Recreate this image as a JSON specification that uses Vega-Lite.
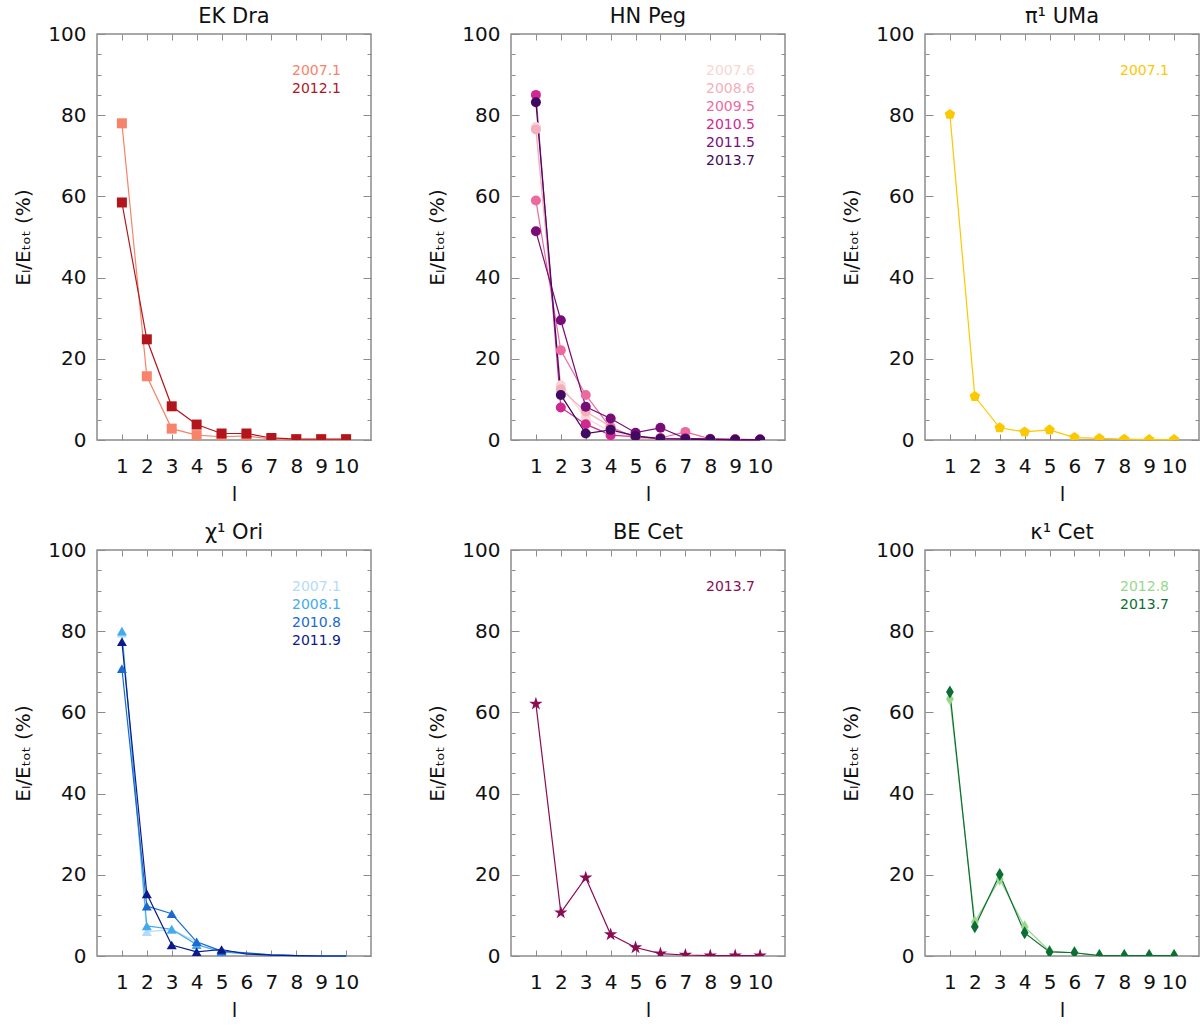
{
  "$schema": "https://vega.github.io/schema/vega-lite/v6.json",
  "autosize": {"type": "pad"},
  "padding": {"left": 13, "top": 5, "right": 0, "bottom": 0},
  "background": "white",
  "data": {
    "values": [
      {"star": "EK Dra", "epoch": "2007.1", "l": 1, "pct": 78.0},
      {"star": "EK Dra", "epoch": "2007.1", "l": 2, "pct": 15.7},
      {"star": "EK Dra", "epoch": "2007.1", "l": 3, "pct": 2.8},
      {"star": "EK Dra", "epoch": "2007.1", "l": 4, "pct": 1.2},
      {"star": "EK Dra", "epoch": "2007.1", "l": 5, "pct": 0.8},
      {"star": "EK Dra", "epoch": "2007.1", "l": 6, "pct": 1.0},
      {"star": "EK Dra", "epoch": "2007.1", "l": 7, "pct": 0.2},
      {"star": "EK Dra", "epoch": "2007.1", "l": 8, "pct": 0.1},
      {"star": "EK Dra", "epoch": "2007.1", "l": 9, "pct": 0.1},
      {"star": "EK Dra", "epoch": "2007.1", "l": 10, "pct": 0.1},
      {"star": "EK Dra", "epoch": "2012.1", "l": 1, "pct": 58.5},
      {"star": "EK Dra", "epoch": "2012.1", "l": 2, "pct": 24.8},
      {"star": "EK Dra", "epoch": "2012.1", "l": 3, "pct": 8.3},
      {"star": "EK Dra", "epoch": "2012.1", "l": 4, "pct": 3.8},
      {"star": "EK Dra", "epoch": "2012.1", "l": 5, "pct": 1.6},
      {"star": "EK Dra", "epoch": "2012.1", "l": 6, "pct": 1.6},
      {"star": "EK Dra", "epoch": "2012.1", "l": 7, "pct": 0.5},
      {"star": "EK Dra", "epoch": "2012.1", "l": 8, "pct": 0.2},
      {"star": "EK Dra", "epoch": "2012.1", "l": 9, "pct": 0.2},
      {"star": "EK Dra", "epoch": "2012.1", "l": 10, "pct": 0.2},

      {"star": "HN Peg", "epoch": "2007.6", "l": 1, "pct": 77.1},
      {"star": "HN Peg", "epoch": "2007.6", "l": 2, "pct": 13.5},
      {"star": "HN Peg", "epoch": "2007.6", "l": 3, "pct": 5.5},
      {"star": "HN Peg", "epoch": "2007.6", "l": 4, "pct": 2.0},
      {"star": "HN Peg", "epoch": "2007.6", "l": 5, "pct": 0.8},
      {"star": "HN Peg", "epoch": "2007.6", "l": 6, "pct": 0.5},
      {"star": "HN Peg", "epoch": "2007.6", "l": 7, "pct": 0.3},
      {"star": "HN Peg", "epoch": "2007.6", "l": 8, "pct": 0.2},
      {"star": "HN Peg", "epoch": "2007.6", "l": 9, "pct": 0.1},
      {"star": "HN Peg", "epoch": "2007.6", "l": 10, "pct": 0.1},
      {"star": "HN Peg", "epoch": "2008.6", "l": 1, "pct": 76.5},
      {"star": "HN Peg", "epoch": "2008.6", "l": 2, "pct": 12.5},
      {"star": "HN Peg", "epoch": "2008.6", "l": 3, "pct": 7.0},
      {"star": "HN Peg", "epoch": "2008.6", "l": 4, "pct": 3.3},
      {"star": "HN Peg", "epoch": "2008.6", "l": 5, "pct": 0.5},
      {"star": "HN Peg", "epoch": "2008.6", "l": 6, "pct": 0.3},
      {"star": "HN Peg", "epoch": "2008.6", "l": 7, "pct": 0.2},
      {"star": "HN Peg", "epoch": "2008.6", "l": 8, "pct": 0.1},
      {"star": "HN Peg", "epoch": "2008.6", "l": 9, "pct": 0.1},
      {"star": "HN Peg", "epoch": "2008.6", "l": 10, "pct": 0.1},
      {"star": "HN Peg", "epoch": "2009.5", "l": 1, "pct": 59.0},
      {"star": "HN Peg", "epoch": "2009.5", "l": 2, "pct": 22.1},
      {"star": "HN Peg", "epoch": "2009.5", "l": 3, "pct": 11.1},
      {"star": "HN Peg", "epoch": "2009.5", "l": 4, "pct": 3.0},
      {"star": "HN Peg", "epoch": "2009.5", "l": 5, "pct": 0.8},
      {"star": "HN Peg", "epoch": "2009.5", "l": 6, "pct": 0.5},
      {"star": "HN Peg", "epoch": "2009.5", "l": 7, "pct": 2.0},
      {"star": "HN Peg", "epoch": "2009.5", "l": 8, "pct": 0.3},
      {"star": "HN Peg", "epoch": "2009.5", "l": 9, "pct": 0.2},
      {"star": "HN Peg", "epoch": "2009.5", "l": 10, "pct": 0.1},
      {"star": "HN Peg", "epoch": "2010.5", "l": 1, "pct": 85.0},
      {"star": "HN Peg", "epoch": "2010.5", "l": 2, "pct": 8.0},
      {"star": "HN Peg", "epoch": "2010.5", "l": 3, "pct": 3.9},
      {"star": "HN Peg", "epoch": "2010.5", "l": 4, "pct": 1.2},
      {"star": "HN Peg", "epoch": "2010.5", "l": 5, "pct": 0.8},
      {"star": "HN Peg", "epoch": "2010.5", "l": 6, "pct": 0.4},
      {"star": "HN Peg", "epoch": "2010.5", "l": 7, "pct": 0.3},
      {"star": "HN Peg", "epoch": "2010.5", "l": 8, "pct": 0.2},
      {"star": "HN Peg", "epoch": "2010.5", "l": 9, "pct": 0.1},
      {"star": "HN Peg", "epoch": "2010.5", "l": 10, "pct": 0.1},
      {"star": "HN Peg", "epoch": "2011.5", "l": 1, "pct": 51.4},
      {"star": "HN Peg", "epoch": "2011.5", "l": 2, "pct": 29.5},
      {"star": "HN Peg", "epoch": "2011.5", "l": 3, "pct": 8.2},
      {"star": "HN Peg", "epoch": "2011.5", "l": 4, "pct": 5.3},
      {"star": "HN Peg", "epoch": "2011.5", "l": 5, "pct": 1.8},
      {"star": "HN Peg", "epoch": "2011.5", "l": 6, "pct": 3.0},
      {"star": "HN Peg", "epoch": "2011.5", "l": 7, "pct": 0.4},
      {"star": "HN Peg", "epoch": "2011.5", "l": 8, "pct": 0.2},
      {"star": "HN Peg", "epoch": "2011.5", "l": 9, "pct": 0.1},
      {"star": "HN Peg", "epoch": "2011.5", "l": 10, "pct": 0.1},
      {"star": "HN Peg", "epoch": "2013.7", "l": 1, "pct": 83.2},
      {"star": "HN Peg", "epoch": "2013.7", "l": 2, "pct": 11.1},
      {"star": "HN Peg", "epoch": "2013.7", "l": 3, "pct": 1.6},
      {"star": "HN Peg", "epoch": "2013.7", "l": 4, "pct": 2.5},
      {"star": "HN Peg", "epoch": "2013.7", "l": 5, "pct": 1.0},
      {"star": "HN Peg", "epoch": "2013.7", "l": 6, "pct": 0.3},
      {"star": "HN Peg", "epoch": "2013.7", "l": 7, "pct": 0.2},
      {"star": "HN Peg", "epoch": "2013.7", "l": 8, "pct": 0.1},
      {"star": "HN Peg", "epoch": "2013.7", "l": 9, "pct": 0.0},
      {"star": "HN Peg", "epoch": "2013.7", "l": 10, "pct": 0.0},

      {"star": "π¹ UMa", "epoch": "2007.1", "l": 1, "pct": 80.2},
      {"star": "π¹ UMa", "epoch": "2007.1", "l": 2, "pct": 10.7},
      {"star": "π¹ UMa", "epoch": "2007.1", "l": 3, "pct": 3.0},
      {"star": "π¹ UMa", "epoch": "2007.1", "l": 4, "pct": 2.0},
      {"star": "π¹ UMa", "epoch": "2007.1", "l": 5, "pct": 2.5},
      {"star": "π¹ UMa", "epoch": "2007.1", "l": 6, "pct": 0.6},
      {"star": "π¹ UMa", "epoch": "2007.1", "l": 7, "pct": 0.4},
      {"star": "π¹ UMa", "epoch": "2007.1", "l": 8, "pct": 0.2},
      {"star": "π¹ UMa", "epoch": "2007.1", "l": 9, "pct": 0.1},
      {"star": "π¹ UMa", "epoch": "2007.1", "l": 10, "pct": 0.1},

      {"star": "χ¹ Ori", "epoch": "2007.1", "l": 1, "pct": 79.5},
      {"star": "χ¹ Ori", "epoch": "2007.1", "l": 2, "pct": 6.0},
      {"star": "χ¹ Ori", "epoch": "2007.1", "l": 3, "pct": 6.5},
      {"star": "χ¹ Ori", "epoch": "2007.1", "l": 4, "pct": 3.5},
      {"star": "χ¹ Ori", "epoch": "2007.1", "l": 5, "pct": 1.2},
      {"star": "χ¹ Ori", "epoch": "2007.1", "l": 6, "pct": 0.6},
      {"star": "χ¹ Ori", "epoch": "2007.1", "l": 7, "pct": 0.3},
      {"star": "χ¹ Ori", "epoch": "2007.1", "l": 8, "pct": 0.1},
      {"star": "χ¹ Ori", "epoch": "2007.1", "l": 9, "pct": 0.0},
      {"star": "χ¹ Ori", "epoch": "2007.1", "l": 10, "pct": 0.0},
      {"star": "χ¹ Ori", "epoch": "2008.1", "l": 1, "pct": 80.0},
      {"star": "χ¹ Ori", "epoch": "2008.1", "l": 2, "pct": 7.4},
      {"star": "χ¹ Ori", "epoch": "2008.1", "l": 3, "pct": 6.6},
      {"star": "χ¹ Ori", "epoch": "2008.1", "l": 4, "pct": 2.8},
      {"star": "χ¹ Ori", "epoch": "2008.1", "l": 5, "pct": 1.0},
      {"star": "χ¹ Ori", "epoch": "2008.1", "l": 6, "pct": 0.5},
      {"star": "χ¹ Ori", "epoch": "2008.1", "l": 7, "pct": 0.3},
      {"star": "χ¹ Ori", "epoch": "2008.1", "l": 8, "pct": 0.1},
      {"star": "χ¹ Ori", "epoch": "2008.1", "l": 9, "pct": 0.0},
      {"star": "χ¹ Ori", "epoch": "2008.1", "l": 10, "pct": 0.0},
      {"star": "χ¹ Ori", "epoch": "2010.8", "l": 1, "pct": 70.8},
      {"star": "χ¹ Ori", "epoch": "2010.8", "l": 2, "pct": 12.3},
      {"star": "χ¹ Ori", "epoch": "2010.8", "l": 3, "pct": 10.4},
      {"star": "χ¹ Ori", "epoch": "2010.8", "l": 4, "pct": 3.5},
      {"star": "χ¹ Ori", "epoch": "2010.8", "l": 5, "pct": 1.2},
      {"star": "χ¹ Ori", "epoch": "2010.8", "l": 6, "pct": 0.8},
      {"star": "χ¹ Ori", "epoch": "2010.8", "l": 7, "pct": 0.3},
      {"star": "χ¹ Ori", "epoch": "2010.8", "l": 8, "pct": 0.1},
      {"star": "χ¹ Ori", "epoch": "2010.8", "l": 9, "pct": 0.0},
      {"star": "χ¹ Ori", "epoch": "2010.8", "l": 10, "pct": 0.0},
      {"star": "χ¹ Ori", "epoch": "2011.9", "l": 1, "pct": 77.4},
      {"star": "χ¹ Ori", "epoch": "2011.9", "l": 2, "pct": 15.3},
      {"star": "χ¹ Ori", "epoch": "2011.9", "l": 3, "pct": 2.7},
      {"star": "χ¹ Ori", "epoch": "2011.9", "l": 4, "pct": 1.0},
      {"star": "χ¹ Ori", "epoch": "2011.9", "l": 5, "pct": 1.6},
      {"star": "χ¹ Ori", "epoch": "2011.9", "l": 6, "pct": 0.5},
      {"star": "χ¹ Ori", "epoch": "2011.9", "l": 7, "pct": 0.2},
      {"star": "χ¹ Ori", "epoch": "2011.9", "l": 8, "pct": 0.1},
      {"star": "χ¹ Ori", "epoch": "2011.9", "l": 9, "pct": 0.0},
      {"star": "χ¹ Ori", "epoch": "2011.9", "l": 10, "pct": 0.0},

      {"star": "BE Cet", "epoch": "2013.7", "l": 1, "pct": 62.1},
      {"star": "BE Cet", "epoch": "2013.7", "l": 2, "pct": 10.7},
      {"star": "BE Cet", "epoch": "2013.7", "l": 3, "pct": 19.3},
      {"star": "BE Cet", "epoch": "2013.7", "l": 4, "pct": 5.3},
      {"star": "BE Cet", "epoch": "2013.7", "l": 5, "pct": 2.1},
      {"star": "BE Cet", "epoch": "2013.7", "l": 6, "pct": 0.6},
      {"star": "BE Cet", "epoch": "2013.7", "l": 7, "pct": 0.25},
      {"star": "BE Cet", "epoch": "2013.7", "l": 8, "pct": 0.1},
      {"star": "BE Cet", "epoch": "2013.7", "l": 9, "pct": 0.1},
      {"star": "BE Cet", "epoch": "2013.7", "l": 10, "pct": 0.1},

      {"star": "κ¹ Cet", "epoch": "2012.8", "l": 1, "pct": 63.3},
      {"star": "κ¹ Cet", "epoch": "2012.8", "l": 2, "pct": 8.4},
      {"star": "κ¹ Cet", "epoch": "2012.8", "l": 3, "pct": 18.9},
      {"star": "κ¹ Cet", "epoch": "2012.8", "l": 4, "pct": 7.2},
      {"star": "κ¹ Cet", "epoch": "2012.8", "l": 5, "pct": 1.2},
      {"star": "κ¹ Cet", "epoch": "2012.8", "l": 6, "pct": 0.8},
      {"star": "κ¹ Cet", "epoch": "2012.8", "l": 7, "pct": 0.1},
      {"star": "κ¹ Cet", "epoch": "2012.8", "l": 8, "pct": 0.1},
      {"star": "κ¹ Cet", "epoch": "2012.8", "l": 9, "pct": 0.1},
      {"star": "κ¹ Cet", "epoch": "2012.8", "l": 10, "pct": 0.1},
      {"star": "κ¹ Cet", "epoch": "2013.7", "l": 1, "pct": 65.0},
      {"star": "κ¹ Cet", "epoch": "2013.7", "l": 2, "pct": 7.2},
      {"star": "κ¹ Cet", "epoch": "2013.7", "l": 3, "pct": 20.1},
      {"star": "κ¹ Cet", "epoch": "2013.7", "l": 4, "pct": 5.7},
      {"star": "κ¹ Cet", "epoch": "2013.7", "l": 5, "pct": 1.0},
      {"star": "κ¹ Cet", "epoch": "2013.7", "l": 6, "pct": 0.8},
      {"star": "κ¹ Cet", "epoch": "2013.7", "l": 7, "pct": 0.1},
      {"star": "κ¹ Cet", "epoch": "2013.7", "l": 8, "pct": 0.1},
      {"star": "κ¹ Cet", "epoch": "2013.7", "l": 9, "pct": 0.1},
      {"star": "κ¹ Cet", "epoch": "2013.7", "l": 10, "pct": 0.1}
    ]
  },
  "columns": 3,
  "bounds": "flush",
  "spacing": {"row": 110, "column": 140},
  "resolve": {
    "scale": {"x": "independent", "y": "independent", "color": "independent"},
    "legend": {"color": "independent"}
  },
  "concat": [
    {
      "title": "EK Dra",
      "width": 274,
      "height": 406,
      "transform": [{"filter": "datum.star === 'EK Dra'"}],
      "encoding": {
        "color": {
          "field": "epoch", "type": "nominal",
          "scale": {"domain": ["2007.1", "2012.1"], "range": ["#f7836a", "#b2161c"]},
          "legend": {"title": null, "encode": {"labels": {"update": {"fill": {"signal": "['#f7836a', '#b2161c'][datum.index]"}}}}}
        }
      },
      "layer": [
        {
          "mark": {"type": "line", "strokeWidth": 1.2},
          "encoding": {
            "x": {"field": "l", "type": "quantitative", "scale": {"domain": [0, 11], "nice": false, "zero": false},
                  "axis": {"orient": "bottom", "values": [1, 2, 3, 4, 5, 6, 7, 8, 9, 10], "title": "l"}},
            "y": {"field": "pct", "type": "quantitative", "scale": {"domain": [0, 100], "nice": false},
                  "axis": {"orient": "left", "values": [0, 5, 10, 15, 20, 25, 30, 35, 40, 45, 50, 55, 60, 65, 70, 75, 80, 85, 90, 95, 100],
                           "labelExpr": "datum.value % 20 === 0 ? datum.label : ''",
                           "tickSize": {"condition": {"test": "datum.value % 20 === 0", "value": -8}, "value": -4},
                           "title": "Eₗ/Eₜₒₜ (%)"}}
          }
        },
        {
          "mark": {"type": "point", "shape": "square", "filled": true, "opacity": 1, "size": 100, "clip": true},
          "encoding": {
            "x": {"field": "l", "type": "quantitative", "scale": {"domain": [0, 11], "nice": false, "zero": false},
                  "axis": {"orient": "top", "values": [1, 2, 3, 4, 5, 6, 7, 8, 9, 10], "labels": false, "title": null}},
            "y": {"field": "pct", "type": "quantitative", "scale": {"domain": [0, 100], "nice": false},
                  "axis": {"orient": "right", "values": [0, 5, 10, 15, 20, 25, 30, 35, 40, 45, 50, 55, 60, 65, 70, 75, 80, 85, 90, 95, 100],
                           "labels": false,
                           "tickSize": {"condition": {"test": "datum.value % 20 === 0", "value": -8}, "value": -4},
                           "title": null}}
          }
        }
      ],
      "resolve": {"axis": {"x": "independent", "y": "independent"}}
    },
    {
      "title": "HN Peg",
      "width": 274,
      "height": 406,
      "transform": [{"filter": "datum.star === 'HN Peg'"}],
      "encoding": {
        "color": {
          "field": "epoch", "type": "nominal",
          "scale": {"domain": ["2007.6", "2008.6", "2009.5", "2010.5", "2011.5", "2013.7"],
                    "range": ["#f8d6d6", "#f4afbd", "#ec6aa0", "#d02890", "#7a0c78", "#3f0a60"]},
          "legend": {"title": null, "encode": {"labels": {"update": {"fill": {"signal": "['#f8d6d6', '#f4afbd', '#ec6aa0', '#d02890', '#7a0c78', '#3f0a60'][datum.index]"}}}}}
        }
      },
      "layer": [
        {
          "mark": {"type": "line", "strokeWidth": 1.2},
          "encoding": {
            "x": {"field": "l", "type": "quantitative", "scale": {"domain": [0, 11], "nice": false, "zero": false},
                  "axis": {"orient": "bottom", "values": [1, 2, 3, 4, 5, 6, 7, 8, 9, 10], "title": "l"}},
            "y": {"field": "pct", "type": "quantitative", "scale": {"domain": [0, 100], "nice": false},
                  "axis": {"orient": "left", "values": [0, 5, 10, 15, 20, 25, 30, 35, 40, 45, 50, 55, 60, 65, 70, 75, 80, 85, 90, 95, 100],
                           "labelExpr": "datum.value % 20 === 0 ? datum.label : ''",
                           "tickSize": {"condition": {"test": "datum.value % 20 === 0", "value": -8}, "value": -4},
                           "title": "Eₗ/Eₜₒₜ (%)"}}
          }
        },
        {
          "mark": {"type": "point", "shape": "circle", "filled": true, "opacity": 1, "size": 100, "clip": true},
          "encoding": {
            "x": {"field": "l", "type": "quantitative", "scale": {"domain": [0, 11], "nice": false, "zero": false},
                  "axis": {"orient": "top", "values": [1, 2, 3, 4, 5, 6, 7, 8, 9, 10], "labels": false, "title": null}},
            "y": {"field": "pct", "type": "quantitative", "scale": {"domain": [0, 100], "nice": false},
                  "axis": {"orient": "right", "values": [0, 5, 10, 15, 20, 25, 30, 35, 40, 45, 50, 55, 60, 65, 70, 75, 80, 85, 90, 95, 100],
                           "labels": false,
                           "tickSize": {"condition": {"test": "datum.value % 20 === 0", "value": -8}, "value": -4},
                           "title": null}}
          }
        }
      ],
      "resolve": {"axis": {"x": "independent", "y": "independent"}}
    },
    {
      "title": "π¹ UMa",
      "width": 274,
      "height": 406,
      "transform": [{"filter": "datum.star === 'π¹ UMa'"}],
      "encoding": {
        "color": {
          "field": "epoch", "type": "nominal",
          "scale": {"domain": ["2007.1"], "range": ["#fcc800"]},
          "legend": {"title": null, "encode": {"labels": {"update": {"fill": {"signal": "['#fcc800'][datum.index]"}}}}}
        }
      },
      "layer": [
        {
          "mark": {"type": "line", "strokeWidth": 1.2},
          "encoding": {
            "x": {"field": "l", "type": "quantitative", "scale": {"domain": [0, 11], "nice": false, "zero": false},
                  "axis": {"orient": "bottom", "values": [1, 2, 3, 4, 5, 6, 7, 8, 9, 10], "title": "l"}},
            "y": {"field": "pct", "type": "quantitative", "scale": {"domain": [0, 100], "nice": false},
                  "axis": {"orient": "left", "values": [0, 5, 10, 15, 20, 25, 30, 35, 40, 45, 50, 55, 60, 65, 70, 75, 80, 85, 90, 95, 100],
                           "labelExpr": "datum.value % 20 === 0 ? datum.label : ''",
                           "tickSize": {"condition": {"test": "datum.value % 20 === 0", "value": -8}, "value": -4},
                           "title": "Eₗ/Eₜₒₜ (%)"}}
          }
        },
        {
          "mark": {"type": "point", "shape": "M0,-1L0.951,-0.309L0.588,0.809L-0.588,0.809L-0.951,-0.309Z", "filled": true, "opacity": 1, "size": 121, "clip": true},
          "encoding": {
            "x": {"field": "l", "type": "quantitative", "scale": {"domain": [0, 11], "nice": false, "zero": false},
                  "axis": {"orient": "top", "values": [1, 2, 3, 4, 5, 6, 7, 8, 9, 10], "labels": false, "title": null}},
            "y": {"field": "pct", "type": "quantitative", "scale": {"domain": [0, 100], "nice": false},
                  "axis": {"orient": "right", "values": [0, 5, 10, 15, 20, 25, 30, 35, 40, 45, 50, 55, 60, 65, 70, 75, 80, 85, 90, 95, 100],
                           "labels": false,
                           "tickSize": {"condition": {"test": "datum.value % 20 === 0", "value": -8}, "value": -4},
                           "title": null}}
          }
        }
      ],
      "resolve": {"axis": {"x": "independent", "y": "independent"}}
    },
    {
      "title": "χ¹ Ori",
      "width": 274,
      "height": 406,
      "transform": [{"filter": "datum.star === 'χ¹ Ori'"}],
      "encoding": {
        "color": {
          "field": "epoch", "type": "nominal",
          "scale": {"domain": ["2007.1", "2008.1", "2010.8", "2011.9"], "range": ["#b4dcf8", "#44aaee", "#1a6ad0", "#0c1a8a"]},
          "legend": {"title": null, "encode": {"labels": {"update": {"fill": {"signal": "['#b4dcf8', '#44aaee', '#1a6ad0', '#0c1a8a'][datum.index]"}}}}}
        }
      },
      "layer": [
        {
          "mark": {"type": "line", "strokeWidth": 1.2},
          "encoding": {
            "x": {"field": "l", "type": "quantitative", "scale": {"domain": [0, 11], "nice": false, "zero": false},
                  "axis": {"orient": "bottom", "values": [1, 2, 3, 4, 5, 6, 7, 8, 9, 10], "title": "l"}},
            "y": {"field": "pct", "type": "quantitative", "scale": {"domain": [0, 100], "nice": false},
                  "axis": {"orient": "left", "values": [0, 5, 10, 15, 20, 25, 30, 35, 40, 45, 50, 55, 60, 65, 70, 75, 80, 85, 90, 95, 100],
                           "labelExpr": "datum.value % 20 === 0 ? datum.label : ''",
                           "tickSize": {"condition": {"test": "datum.value % 20 === 0", "value": -8}, "value": -4},
                           "title": "Eₗ/Eₜₒₜ (%)"}}
          }
        },
        {
          "transform": [{"filter": "datum.l <= 5"}],
          "mark": {"type": "point", "shape": "triangle-up", "filled": true, "opacity": 1, "size": 100, "clip": true},
          "encoding": {
            "x": {"field": "l", "type": "quantitative", "scale": {"domain": [0, 11], "nice": false, "zero": false},
                  "axis": {"orient": "top", "values": [1, 2, 3, 4, 5, 6, 7, 8, 9, 10], "labels": false, "title": null}},
            "y": {"field": "pct", "type": "quantitative", "scale": {"domain": [0, 100], "nice": false},
                  "axis": {"orient": "right", "values": [0, 5, 10, 15, 20, 25, 30, 35, 40, 45, 50, 55, 60, 65, 70, 75, 80, 85, 90, 95, 100],
                           "labels": false,
                           "tickSize": {"condition": {"test": "datum.value % 20 === 0", "value": -8}, "value": -4},
                           "title": null}}
          }
        }
      ],
      "resolve": {"axis": {"x": "independent", "y": "independent"}}
    },
    {
      "title": "BE Cet",
      "width": 274,
      "height": 406,
      "transform": [{"filter": "datum.star === 'BE Cet'"}],
      "encoding": {
        "color": {
          "field": "epoch", "type": "nominal",
          "scale": {"domain": ["2013.7"], "range": ["#8c0c54"]},
          "legend": {"title": null, "encode": {"labels": {"update": {"fill": {"signal": "['#8c0c54'][datum.index]"}}}}}
        }
      },
      "layer": [
        {
          "mark": {"type": "line", "strokeWidth": 1.2},
          "encoding": {
            "x": {"field": "l", "type": "quantitative", "scale": {"domain": [0, 11], "nice": false, "zero": false},
                  "axis": {"orient": "bottom", "values": [1, 2, 3, 4, 5, 6, 7, 8, 9, 10], "title": "l"}},
            "y": {"field": "pct", "type": "quantitative", "scale": {"domain": [0, 100], "nice": false},
                  "axis": {"orient": "left", "values": [0, 5, 10, 15, 20, 25, 30, 35, 40, 45, 50, 55, 60, 65, 70, 75, 80, 85, 90, 95, 100],
                           "labelExpr": "datum.value % 20 === 0 ? datum.label : ''",
                           "tickSize": {"condition": {"test": "datum.value % 20 === 0", "value": -8}, "value": -4},
                           "title": "Eₗ/Eₜₒₜ (%)"}}
          }
        },
        {
          "mark": {"type": "point", "shape": "M0,-1L0.225,-0.31L0.951,-0.309L0.363,0.118L0.588,0.809L0,0.381L-0.588,0.809L-0.363,0.118L-0.951,-0.309L-0.225,-0.31Z", "filled": true, "opacity": 1, "size": 196, "clip": true},
          "encoding": {
            "x": {"field": "l", "type": "quantitative", "scale": {"domain": [0, 11], "nice": false, "zero": false},
                  "axis": {"orient": "top", "values": [1, 2, 3, 4, 5, 6, 7, 8, 9, 10], "labels": false, "title": null}},
            "y": {"field": "pct", "type": "quantitative", "scale": {"domain": [0, 100], "nice": false},
                  "axis": {"orient": "right", "values": [0, 5, 10, 15, 20, 25, 30, 35, 40, 45, 50, 55, 60, 65, 70, 75, 80, 85, 90, 95, 100],
                           "labels": false,
                           "tickSize": {"condition": {"test": "datum.value % 20 === 0", "value": -8}, "value": -4},
                           "title": null}}
          }
        }
      ],
      "resolve": {"axis": {"x": "independent", "y": "independent"}}
    },
    {
      "title": "κ¹ Cet",
      "width": 274,
      "height": 406,
      "transform": [{"filter": "datum.star === 'κ¹ Cet'"}],
      "encoding": {
        "color": {
          "field": "epoch", "type": "nominal",
          "scale": {"domain": ["2012.8", "2013.7"], "range": ["#98d88c", "#0c6e34"]},
          "legend": {"title": null, "encode": {"labels": {"update": {"fill": {"signal": "['#98d88c', '#0c6e34'][datum.index]"}}}}}
        }
      },
      "layer": [
        {
          "mark": {"type": "line", "strokeWidth": 1.2},
          "encoding": {
            "x": {"field": "l", "type": "quantitative", "scale": {"domain": [0, 11], "nice": false, "zero": false},
                  "axis": {"orient": "bottom", "values": [1, 2, 3, 4, 5, 6, 7, 8, 9, 10], "title": "l"}},
            "y": {"field": "pct", "type": "quantitative", "scale": {"domain": [0, 100], "nice": false},
                  "axis": {"orient": "left", "values": [0, 5, 10, 15, 20, 25, 30, 35, 40, 45, 50, 55, 60, 65, 70, 75, 80, 85, 90, 95, 100],
                           "labelExpr": "datum.value % 20 === 0 ? datum.label : ''",
                           "tickSize": {"condition": {"test": "datum.value % 20 === 0", "value": -8}, "value": -4},
                           "title": "Eₗ/Eₜₒₜ (%)"}}
          }
        },
        {
          "mark": {"type": "point", "shape": "M0,-1L0.6,0L0,1L-0.6,0Z", "filled": true, "opacity": 1, "size": 169, "clip": true},
          "encoding": {
            "x": {"field": "l", "type": "quantitative", "scale": {"domain": [0, 11], "nice": false, "zero": false},
                  "axis": {"orient": "top", "values": [1, 2, 3, 4, 5, 6, 7, 8, 9, 10], "labels": false, "title": null}},
            "y": {"field": "pct", "type": "quantitative", "scale": {"domain": [0, 100], "nice": false},
                  "axis": {"orient": "right", "values": [0, 5, 10, 15, 20, 25, 30, 35, 40, 45, 50, 55, 60, 65, 70, 75, 80, 85, 90, 95, 100],
                           "labels": false,
                           "tickSize": {"condition": {"test": "datum.value % 20 === 0", "value": -8}, "value": -4},
                           "title": null}}
          }
        }
      ],
      "resolve": {"axis": {"x": "independent", "y": "independent"}}
    }
  ],
  "config": {
    "font": "DejaVu Sans",
    "view": {"stroke": "#8c8c8c", "strokeWidth": 1.5},
    "title": {"fontSize": 21, "fontWeight": "normal", "offset": -3, "color": "#111111"},
    "axis": {
      "domain": false,
      "grid": false,
      "tickColor": "#8c8c8c",
      "tickWidth": 1,
      "labelFontSize": 20,
      "labelColor": "#111111",
      "titleFontSize": 20,
      "titleFontWeight": "normal",
      "titleColor": "#111111",
      "labelOverlap": false,
      "labelFlush": false
    },
    "axisX": {"tickSize": -6, "labelPadding": 22, "titlePadding": 8},
    "axisY": {"labelPadding": 19, "titlePadding": 14},
    "legend": {
      "orient": "top-right",
      "offset": 30,
      "labelFontSize": 14,
      "symbolSize": 0,
      "symbolOpacity": 0,
      "symbolStrokeWidth": 0,
      "labelOffset": 0,
      "rowPadding": 4
    }
  }
}
